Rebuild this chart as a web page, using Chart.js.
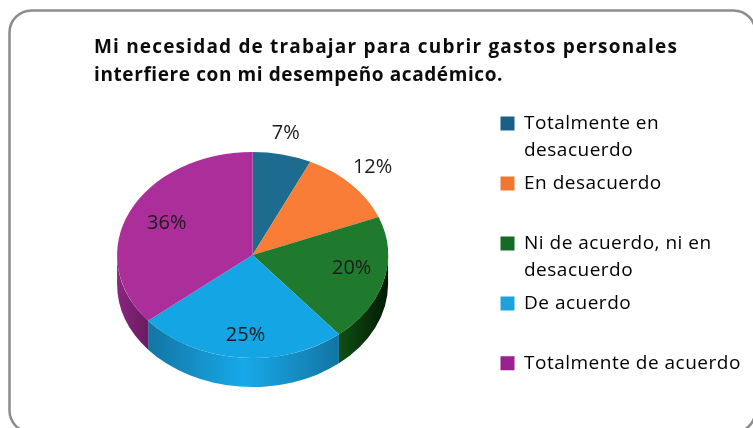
<!DOCTYPE html>
<html><head><meta charset="utf-8">
<style>html,body{margin:0;padding:0;background:#fff;overflow:hidden}#wrap{width:753px;height:428px;position:relative}canvas{display:block;filter:blur(0.6px)}</style>
<script src="https://cdn.jsdelivr.net/npm/chart.js@4"></script>
</head><body><div id="wrap"><canvas id="c" width="753" height="428"></canvas></div>
<script>
const titleLines = ['Mi necesidad de trabajar para cubrir gastos personales','interfiere con mi desempeño académico.'];
const categories = ['Totalmente en desacuerdo','En desacuerdo','Ni de acuerdo, ni en desacuerdo','De acuerdo','Totalmente de acuerdo'];
const legendLines = [['Totalmente en','desacuerdo'],['En desacuerdo',''],['Ni de acuerdo, ni en','desacuerdo'],['De acuerdo',''],['Totalmente de acuerdo','']];
const values = [7,12,20,25,36];
const sliceColors = ['#1d6b8f','#f97d37','#1f7a2d','#14a6e4','#ac2e9b'];
const legendColors = ['#1a5f86','#f07632','#176a26','#1ea1dc','#9a2290'];
const wallStops = [[],[],['#0f4f12','#031a04'],['#1375a3','#17a9ea','#1375a3'],['#8a2680','#6a1a60']];
const labelFx = [1.12,1.215,0.755,0.55,0.70];
const labelFy = [1.214,1.247,0.508,0.78,0.729];
const squash = 0.76, pieCY = 255, depth = 29;
const font = '"Open Sans"';

const canvas = document.getElementById('c');
const rawCtx = canvas.getContext('2d');
const rawFill = rawCtx.fillText.bind(rawCtx);
rawCtx.fillText = function(t,x,y,w){
  const prev = rawCtx.letterSpacing;
  rawCtx.letterSpacing = t===titleLines[0] ? '1.18px' : t===titleLines[1] ? '0.6px' : /%$/.test(t) ? '0px' : '0.5px';
  rawFill(t,x,y,w);
  rawCtx.letterSpacing = prev;
};
const frame = { id:'frame', beforeDraw(ch){
  const c=ch.ctx; c.save(); c.fillStyle='#fff'; c.fillRect(0,0,753,428);
  c.strokeStyle='#8c8c8c'; c.lineWidth=2.5; c.beginPath(); c.roundRect(9.5,10.5,746,422,22); c.stroke(); c.restore();
}};
const squashPie = { id:'squashPie',
  beforeDatasetsDraw(ch){
    const c=ch.ctx, arcs=ch.getDatasetMeta(0).data;
    c.save();
    arcs.forEach((a,i)=>{
      const s=Math.max(a.startAngle,0), e=Math.min(a.endAngle,Math.PI);
      if(e<=s||!wallStops[i].length) return;
      const rx=a.outerRadius, ry=rx*squash;
      const x0=a.x+rx*Math.cos(e), x1=a.x+rx*Math.cos(s);
      const g=c.createLinearGradient(x0,0,x1,0);
      wallStops[i].forEach((col,k,arr)=>g.addColorStop(k/(arr.length-1),col));
      c.beginPath();
      c.ellipse(a.x,pieCY,rx,ry,0,s,e);
      c.ellipse(a.x,pieCY+depth,rx,ry,0,e,s,true);
      c.closePath(); c.fillStyle=g; c.fill();
    });
    c.restore();
    c.save();
    const cy=arcs[0].y;
    c.translate(0,pieCY); c.scale(1,squash); c.translate(0,-cy);
  },
  afterDatasetsDraw(ch){
    const c=ch.ctx; c.restore();
    const arcs=ch.getDatasetMeta(0).data;
    c.save(); c.font='20px '+font; c.fillStyle='#1c1c1c'; c.textAlign='center'; c.textBaseline='middle';
    arcs.forEach((a,i)=>{
      const m=(a.startAngle+a.endAngle)/2, rx=a.outerRadius;
      c.fillText(values[i]+'%', a.x+Math.cos(m)*rx*labelFx[i], pieCY+Math.sin(m)*rx*squash*labelFy[i]);
    });
    c.restore();
  }
};
const place = { id:'place', afterLayout(ch){
  const t=ch.titleBlock; t.left=94; t.right=700; t.top=34;
  const l=ch.legend; const w=l.right-l.left; l.left=494.5; l.right=494.5+w; l.top=108; l.bottom=420;
}};
new Chart(canvas,{
  type:'pie',
  data:{labels:categories,datasets:[{data:values,backgroundColor:sliceColors,borderWidth:0,radius:135.5}]},
  plugins:[frame,squashPie,place],
  options:{
    responsive:false,animation:false,
    layout:{padding:{left:5,right:7,top:0,bottom:0}},
    plugins:{
      tooltip:{enabled:false},
      title:{display:true,text:titleLines,align:'start',color:'#0c0c0c',font:{family:font,size:19,weight:'bold',lineHeight:1.47},padding:0},
      legend:{position:'right',align:'start',labels:{
        boxWidth:14,boxHeight:14,padding:6,color:'#333',font:{family:font,size:19,lineHeight:1.42},
        generateLabels:()=>legendLines.map((t,i)=>({text:t,fillStyle:legendColors[i],strokeStyle:legendColors[i],lineWidth:0,index:i}))
      }}
    }
  }
});
</script></body></html>
